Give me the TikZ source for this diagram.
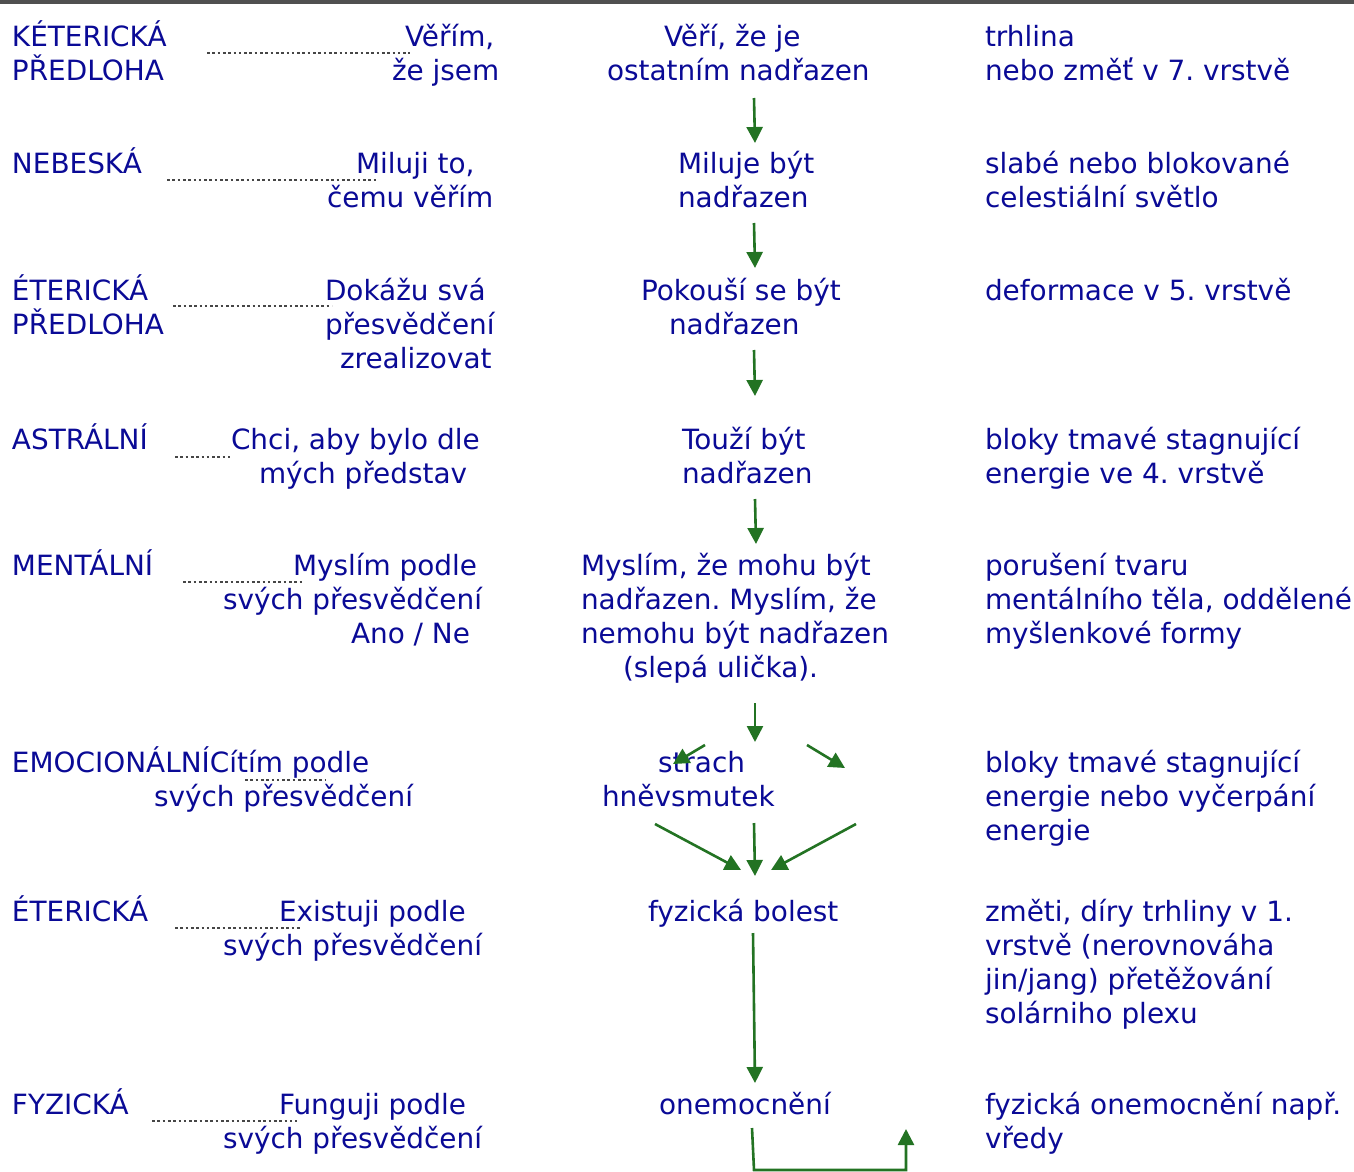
\documentclass[tikz,border=0pt]{standalone}
\usepackage{fontspec}
\setmainfont{DejaVu Sans}
\usetikzlibrary{arrows.meta}
\frenchspacing
\definecolor{tblue}{RGB}{10,10,150}
\definecolor{agreen}{RGB}{35,115,35}
\definecolor{dgray}{RGB}{70,70,70}
\definecolor{bar}{RGB}{80,80,80}
\tikzset{
  txt/.style={anchor=base west, inner sep=0pt, outer sep=0pt, text=tblue, font=\fontsize{27.9}{34}\selectfont},
  arr/.style={-{Triangle[width=16pt,length=16pt]}, line width=2.6pt, draw=agreen},
  dotline/.style={dash pattern=on 2.6pt off 2.7pt, line width=2.8pt, draw=dgray},
}
\begin{document}
\begin{tikzpicture}[x=1pt,y=-1pt]
\useasboundingbox (0,0) rectangle (1354,1172);
\fill[bar] (0,0) rectangle (1354,4);

% ---------- Row 1
\node[txt] (l1a) at (12,47) {KÉTERICKÁ};
\node[txt] (l1b) at (12,81) {PŘEDLOHA};
\node[txt] (m1a) at (405,47) {Věřím,};
\node[txt] (m1b) at (392,81) {že jsem};
\node[txt] (c1a) at (664,47) {Věří, že je};
\node[txt] (c1b) at (607,81) {ostatním nadřazen};
\node[txt] (r1a) at (985,47) {trhlina};
\node[txt] (r1b) at (985,81) {nebo změť v 7. vrstvě};
\coordinate (d1s) at (207,53); \coordinate (d1e) at (410,53);
\draw[dotline] (d1s) -- (d1e);

% ---------- Row 2
\node[txt] (l2a) at (12,173) {NEBESKÁ};
\node[txt] (m2a) at (356,173) {Miluji to,};
\node[txt] (m2b) at (327,207) {čemu věřím};
\node[txt] (c2a) at (678,173) {Miluje být};
\node[txt] (c2b) at (678,207) {nadřazen};
\node[txt] (r2a) at (985,173) {slabé nebo blokované};
\node[txt] (r2b) at (985,207) {celestiální světlo};
\coordinate (d2s) at (167,180); \coordinate (d2e) at (378,180);
\draw[dotline] (d2s) -- (d2e);

% ---------- Row 3
\node[txt] (l3a) at (12,300) {ÉTERICKÁ};
\node[txt] (l3b) at (12,334) {PŘEDLOHA};
\node[txt] (m3a) at (325,300) {Dokážu svá};
\node[txt] (m3b) at (325,334) {přesvědčení};
\node[txt] (m3c) at (340,368) {zrealizovat};
\node[txt] (c3a) at (641,300) {Pokouší se být};
\node[txt] (c3b) at (669,334) {nadřazen};
\node[txt] (r3a) at (985,300) {deformace v 5. vrstvě};
\coordinate (d3s) at (173,306); \coordinate (d3e) at (332,306);
\draw[dotline] (d3s) -- (d3e);

% ---------- Row 4
\node[txt] (l4a) at (12,449) {ASTRÁLNÍ};
\node[txt] (m4a) at (231,449) {Chci, aby bylo dle};
\node[txt] (m4b) at (259,483) {mých představ};
\node[txt] (c4a) at (682,449) {Touží být};
\node[txt] (c4b) at (682,483) {nadřazen};
\node[txt] (r4a) at (985,449) {bloky tmavé stagnující};
\node[txt] (r4b) at (985,483) {energie ve 4. vrstvě};
\coordinate (d4s) at (175,457); \coordinate (d4e) at (230,457);
\draw[dotline] (d4s) -- (d4e);

% ---------- Row 5
\node[txt] (l5a) at (12,575) {MENTÁLNÍ};
\node[txt] (m5a) at (293,575) {Myslím podle};
\node[txt] (m5b) at (223,609) {svých přesvědčení};
\node[txt] (m5c) at (351,643) {Ano / Ne};
\node[txt] (c5a) at (581,575) {Myslím, že mohu být};
\node[txt] (c5b) at (581,609) {nadřazen. Myslím, že};
\node[txt] (c5c) at (581,643) {nemohu být nadřazen};
\node[txt] (c5d) at (623,677) {(slepá ulička).};
\node[txt] (r5a) at (985,575) {porušení tvaru};
\node[txt] (r5b) at (985,609) {mentálního těla, oddělené};
\node[txt] (r5c) at (985,643) {myšlenkové formy};
\coordinate (d5s) at (183,582); \coordinate (d5e) at (304,582);
\draw[dotline] (d5s) -- (d5e);

% ---------- Row 6
\node[txt] (l6a) at (12,772) {EMOCIONÁLNÍ};
\node[txt] (m6a) at (l6a.base east) {Cítím podle};
\node[txt] (m6b) at (154,806) {svých přesvědčení};
\node[txt] (c6a) at (658,772) {strach};
\node[txt] (c6b) at (602,806) {hněvsmutek};
\node[txt] (r6a) at (985,772) {bloky tmavé stagnující};
\node[txt] (r6b) at (985,806) {energie nebo vyčerpání};
\node[txt] (r6c) at (985,840) {energie};
\coordinate (d6s) at (245,780); \coordinate (d6e) at (325,780);
\draw[dotline] (d6s) -- (d6e);

% ---------- Row 7
\node[txt] (l7a) at (12,921) {ÉTERICKÁ};
\node[txt] (m7a) at (279,921) {Existuji podle};
\node[txt] (m7b) at (223,955) {svých přesvědčení};
\node[txt] (c7a) at (648,921) {fyzická bolest};
\node[txt] (r7a) at (985,921) {změti, díry trhliny v 1.};
\node[txt] (r7b) at (985,955) {vrstvě (nerovnováha};
\node[txt] (r7c) at (985,989) {jin/jang) přetěžování};
\node[txt] (r7d) at (985,1023) {solárniho plexu};
\coordinate (d7s) at (175,928); \coordinate (d7e) at (302,928);
\draw[dotline] (d7s) -- (d7e);

% ---------- Row 8
\node[txt] (l8a) at (12,1114) {FYZICKÁ};
\node[txt] (m8a) at (279,1114) {Funguji podle};
\node[txt] (m8b) at (223,1148) {svých přesvědčení};
\node[txt] (c8a) at (659,1114) {onemocnění};
\node[txt] (r8a) at (985,1114) {fyzická onemocnění např.};
\node[txt] (r8b) at (985,1148) {vředy};
\coordinate (d8s) at (152,1121); \coordinate (d8e) at (297,1121);
\draw[dotline] (d8s) -- (d8e);

% ---------- Arrows
\coordinate (a1s) at (754,98);  \coordinate (a1e) at (755,143);
\coordinate (a2s) at (754,223); \coordinate (a2e) at (755,268);
\coordinate (a3s) at (754,350); \coordinate (a3e) at (755,396);
\coordinate (a4s) at (755,499); \coordinate (a4e) at (756,544);
\coordinate (a5s) at (755,703); \coordinate (a5e) at (755,742);
\draw[arr] (a1s) -- (a1e);
\draw[arr] (a2s) -- (a2e);
\draw[arr] (a3s) -- (a3e);
\draw[arr] (a4s) -- (a4e);
\draw[arr] (a5s) -- (a5e);

\coordinate (bls) at (705,745); \coordinate (ble) at (673,764);
\coordinate (brs) at (807,745); \coordinate (bre) at (845,768);
\draw[arr] (bls) -- (ble);
\draw[arr] (brs) -- (bre);

\coordinate (cls) at (655,824); \coordinate (cle) at (741,870);
\coordinate (cms) at (754,823); \coordinate (cme) at (755,876);
\coordinate (crs) at (856,824); \coordinate (cre) at (771,870);
\draw[arr] (cls) -- (cle);
\draw[arr] (cms) -- (cme);
\draw[arr] (crs) -- (cre);

\coordinate (fls) at (753,933); \coordinate (fle) at (755,1083);
\draw[arr] (fls) -- (fle);

\coordinate (g1) at (752,1128); \coordinate (g2) at (754,1170);
\coordinate (g3) at (906,1170); \coordinate (g4) at (906,1129);
\draw[arr] (g1) -- (g2) -- (g3) -- (g4);
\end{tikzpicture}
\end{document}
